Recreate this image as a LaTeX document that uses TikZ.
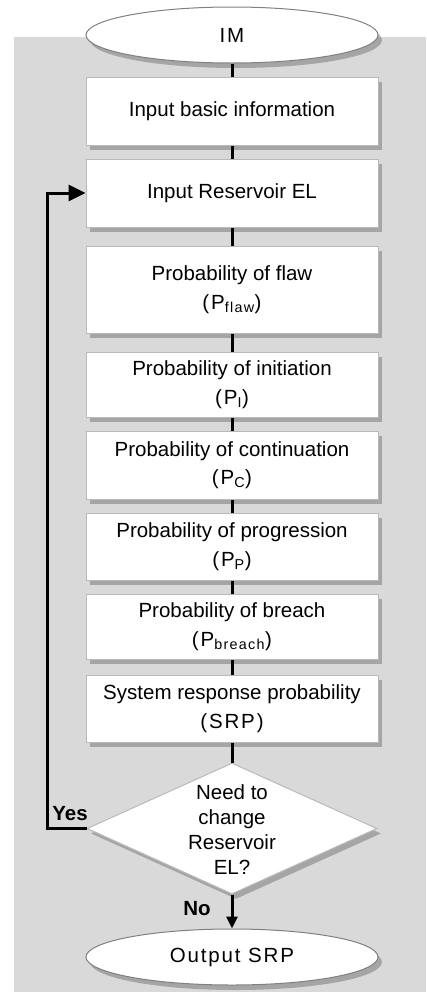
\documentclass[tikz,border=0pt]{standalone}
\usepackage{fontspec}
\setmainfont{Liberation Sans}
\newfontfamily\spacedfont[LetterSpace=9]{Liberation Sans}
\usetikzlibrary{shapes.geometric,shadows,arrows.meta}
\definecolor{bggray}{RGB}{217,217,217}
\definecolor{edgegray}{RGB}{185,185,185}
\newcommand\boxfont{\fontsize{20.5}{28.5}\selectfont}
\tikzset{
  shade/.style={drop shadow={shadow xshift=4pt,shadow yshift=-5pt,fill=black!55,opacity=.5}},
  stepbox/.style={rectangle,draw=edgegray,line width=1pt,fill=white,minimum width=292pt,
    inner sep=0pt,align=center,font=\boxfont,shade},
  term/.style={ellipse,draw=gray,line width=1pt,fill=white,minimum width=292pt,
    minimum height=56pt,inner sep=0pt,font=\boxfont\spacedfont,shade},
  decide/.style={diamond,draw=edgegray,line width=1pt,fill=white,minimum width=290pt,
    minimum height=131pt,inner sep=0pt,shade},
  conn/.style={line width=3pt,black},
  lbl/.style={font=\boxfont\bfseries,inner sep=0pt},
}
\begin{document}
\begin{tikzpicture}[x=1pt,y=-1pt]
\useasboundingbox (0,0) rectangle (426,1002);
\fill[bggray] (14,37) rectangle (426,992);

\node[term] (im) at (232,35) {IM};
\node[stepbox,minimum height=68pt] (b1) at (232,111) {Input basic information};
\node[stepbox,minimum height=68pt] (b2) at (232,193) {Input Reservoir EL};
\node[stepbox,minimum height=87pt] (b3) at (232,289.5) {Probability of flaw\\{\spacedfont(P\textsubscript{flaw})}};
\node[stepbox,minimum height=65pt] (b4) at (232,384.5) {Probability of initiation\\{\spacedfont(P\textsubscript{I})}};
\node[stepbox,minimum height=68pt] (b5) at (232,465) {Probability of continuation\\{\spacedfont(P\textsubscript{C})}};
\node[stepbox,minimum height=67pt] (b6) at (232,546.5) {Probability of progression\\{\spacedfont(P\textsubscript{P})}};
\node[stepbox,minimum height=65pt] (b7) at (232,626.5) {Probability of breach\\{\spacedfont(P\textsubscript{breach})}};
\node[stepbox,minimum height=67pt] (b8) at (232,708.5) {System response probability\\{\spacedfont(SRP)}};
\node[decide] (d) at (232,828.5) {};
\node[font=\fontsize{20.5}{25}\selectfont,align=center,inner sep=0pt] (dtext) at (232,830) {Need to\\change\\Reservoir\\EL?};
\node[term] (out) at (232,957) {Output SRP};

\draw[conn] (im) -- (b1);
\draw[conn] (b1) -- (b2);
\draw[conn] (b2) -- (b3);
\draw[conn] (b3) -- (b4);
\draw[conn] (b4) -- (b5);
\draw[conn] (b5) -- (b6);
\draw[conn] (b6) -- (b7);
\draw[conn] (b7) -- (b8);
\draw[conn] (b8) -- (d);
\draw[conn,-{Triangle[length=12pt,width=11pt]}] (d.south) -- (out.north);

\coordinate (loopx) at (47,0);
\draw[line width=3pt,-{Triangle[length=17pt,width=16pt]}] (d.west) -- (d.west -| loopx) |- (b2.west);

\node[lbl] (yes) at (70,814) {Yes};
\node[lbl] (no) at (197,909) {No};
\end{tikzpicture}
\end{document}
